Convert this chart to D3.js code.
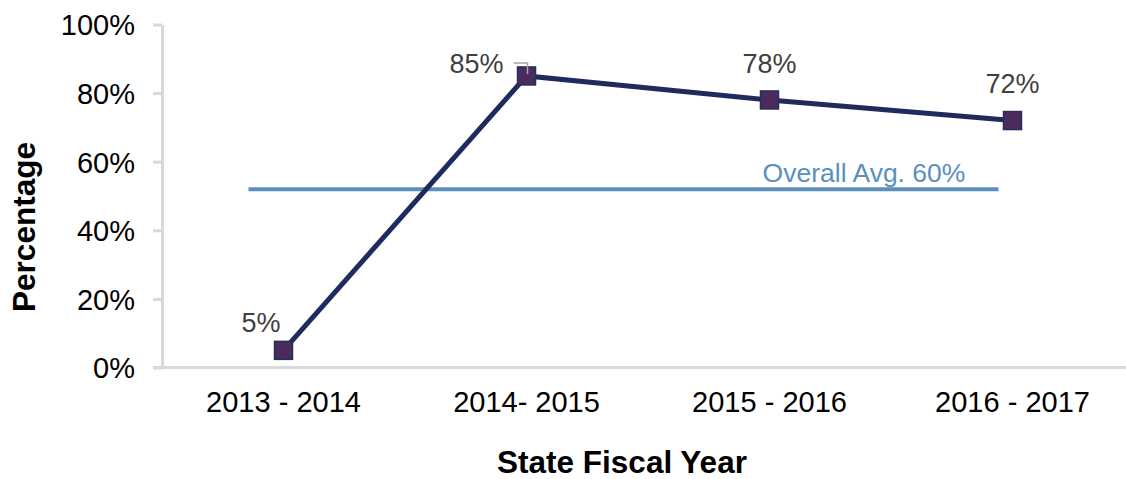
<!DOCTYPE html>
<html>
<head>
<meta charset="utf-8">
<script src="https://cdn.jsdelivr.net/npm/d3@7"></script>
<style>
  html, body { margin: 0; padding: 0; background: #fff; }
  svg { display: block; font-family: Arial, "Liberation Sans", sans-serif; }
</style>
</head>
<body>
<div id="chart"></div>
<script>
// data
const years = ["2013 - 2014", "2014- 2015", "2015 - 2016", "2016 - 2017"];
const percents = [5, 85, 78, 72];
const yTicks = [0, 20, 40, 60, 80, 100];
const avgValue = 52; // where the avg line sits in the picture
const avgLabel = "Overall Avg. 60%";

const width = 1126;
const height = 479;

const svg = d3.select("#chart")
    .append("svg")
    .attr("width", width)
    .attr("height", height);

const x = d3.scaleBand()
    .domain(years)
    .range([162, 1134])
    .padding(0);

const y = d3.scaleLinear()
    .domain([0, 100])
    .range([367.5, 24.5]);

const cx = d => x(d) + x.bandwidth() / 2;

// y axis
const yAxis = svg.append("g")
    .attr("transform", "translate(162,0)")
    .call(d3.axisLeft(y).tickValues(yTicks).tickSize(9).tickSizeOuter(0).tickFormat(d => d + "%"));
yAxis.select(".domain").attr("stroke", "#d9d9d9").attr("stroke-width", 3);
yAxis.selectAll(".tick line").attr("stroke", "#d9d9d9").attr("stroke-width", 3);
yAxis.selectAll(".tick text")
    .attr("x", -27)
    .attr("dy", "0.36em")
    .attr("fill", "#000")
    .style("font-size", "29px")
    .style("font-family", "Arial, 'Liberation Sans', sans-serif");

// x axis line
svg.append("line")
    .attr("x1", 153).attr("x2", width)
    .attr("y1", y(0)).attr("y2", y(0))
    .attr("stroke", "#d9d9d9")
    .attr("stroke-width", 3);

svg.append("g")
    .selectAll("text")
    .data(years)
    .join("text")
    .attr("x", d => cx(d))
    .attr("y", 412)
    .attr("text-anchor", "middle")
    .style("font-size", "29px")
    .attr("fill", "#000")
    .text(d => d);

// axis titles
svg.append("text")
    .attr("x", 622)
    .attr("y", 473)
    .attr("text-anchor", "middle")
    .style("font-size", "31.5px")
    .style("font-weight", "bold")
    .text("State Fiscal Year");

svg.append("text")
    .attr("transform", "translate(35,227) rotate(-90)")
    .attr("text-anchor", "middle")
    .style("font-size", "31.5px")
    .style("font-weight", "bold")
    .text("Percentage");

// average line
svg.append("line")
    .attr("x1", cx(years[0]) - 35)
    .attr("x2", cx(years[3]) - 14)
    .attr("y1", y(avgValue))
    .attr("y2", y(avgValue))
    .attr("stroke", "#5b8fbe")
    .attr("stroke-width", 4);

svg.append("text")
    .attr("x", 864)
    .attr("y", 182)
    .attr("text-anchor", "middle")
    .attr("fill", "#5b8fbe")
    .style("font-size", "26.5px")
    .text(avgLabel);

// main line
const line = d3.line()
    .x((d, i) => cx(years[i]))
    .y(d => y(d));

svg.append("path")
    .datum(percents)
    .attr("d", line)
    .attr("fill", "none")
    .attr("stroke", "#1f2a5e")
    .attr("stroke-width", 5);

// markers
svg.selectAll("rect.marker")
    .data(percents)
    .join("rect")
    .attr("class", "marker")
    .attr("x", (d, i) => cx(years[i]) - 9)
    .attr("y", d => y(d) - 9)
    .attr("width", 18)
    .attr("height", 18)
    .attr("fill", "#4a2b5b")
    .attr("stroke", "#23305f")
    .attr("stroke-width", 1.5);

// leader line for 85%
svg.append("path")
    .attr("d", `M${cx(years[1]) - 13},${y(percents[1]) - 13}H${cx(years[1]) + 1}V${y(percents[1]) - 2}`)
    .attr("fill", "none")
    .attr("stroke", "#a6a6a6")
    .attr("stroke-width", 1.5);

// data labels
const labelPos = [
    { dx: -3, dy: -18, anchor: "end" },
    { dx: -23, dy: -3, anchor: "end" },
    { dx: 0, dy: -27, anchor: "middle" },
    { dx: 0, dy: -28, anchor: "middle" }
];

svg.selectAll("text.dlabel")
    .data(percents)
    .join("text")
    .attr("class", "dlabel")
    .attr("x", (d, i) => cx(years[i]) + labelPos[i].dx)
    .attr("y", (d, i) => y(d) + labelPos[i].dy)
    .attr("text-anchor", (d, i) => labelPos[i].anchor)
    .attr("fill", "#404040")
    .style("font-size", "27px")
    .text(d => d + "%");
</script>
</body>
</html>
